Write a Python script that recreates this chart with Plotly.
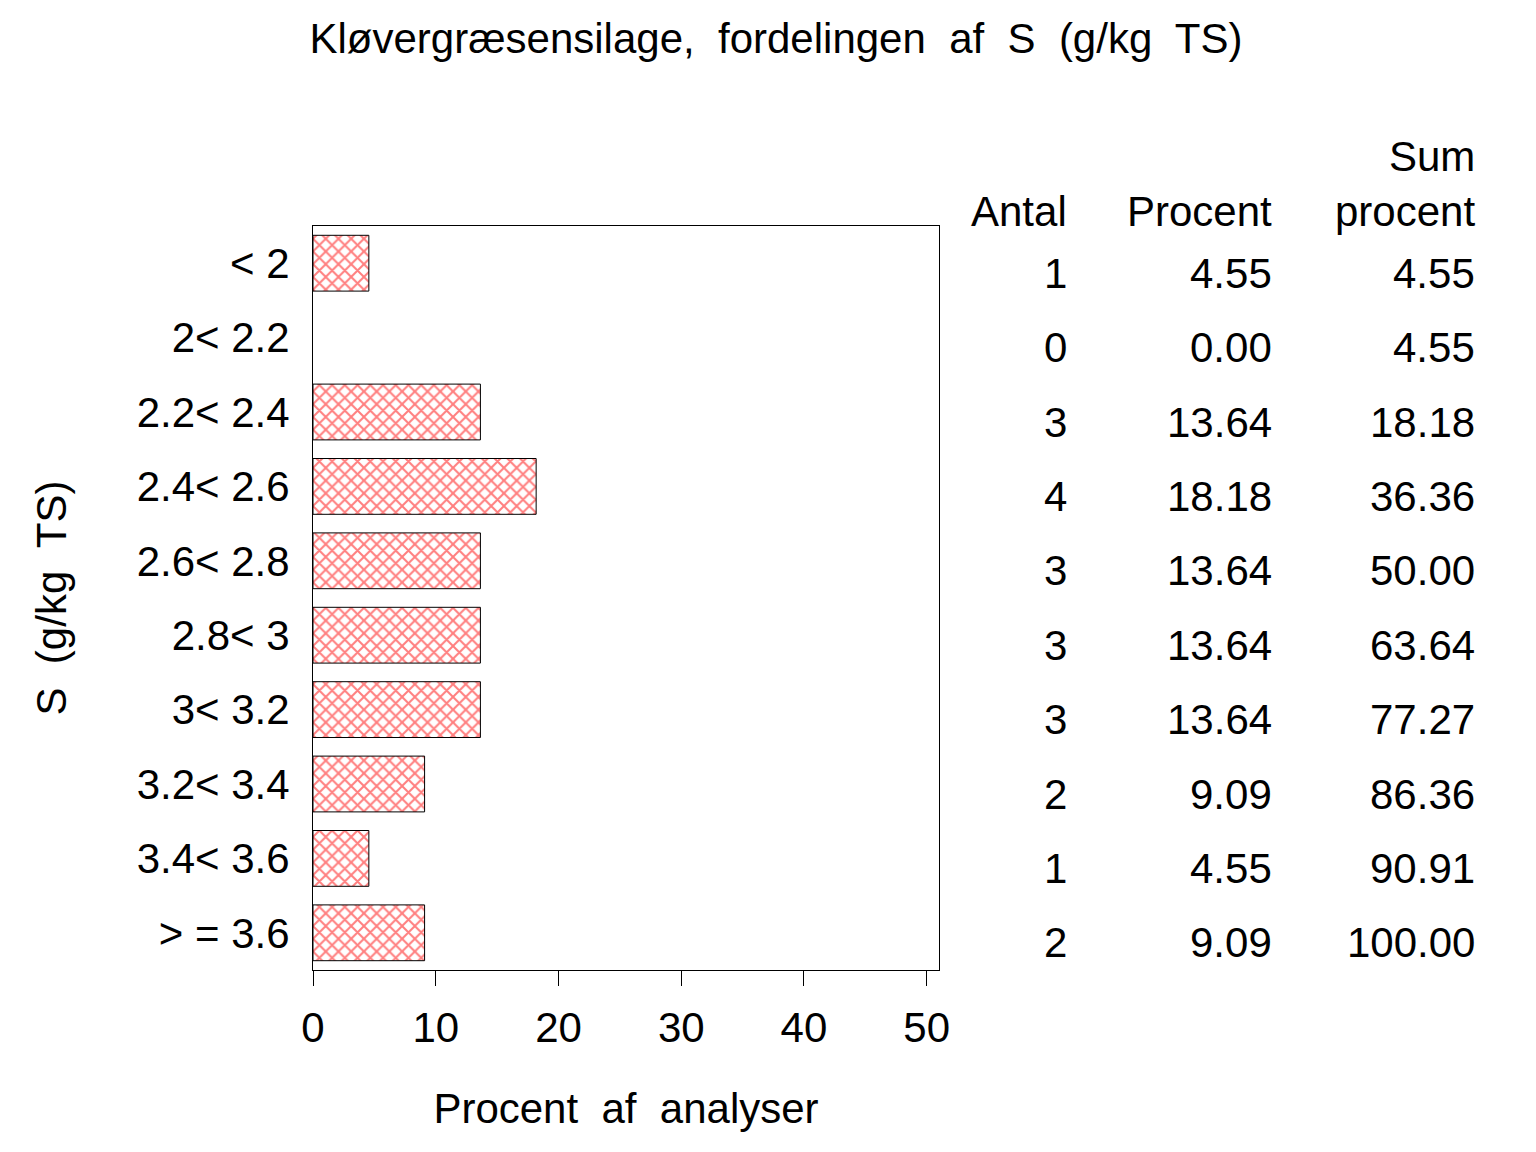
import plotly.graph_objects as go

# Data
intervals = ["< 2", "2< 2.2", "2.2< 2.4", "2.4< 2.6", "2.6< 2.8",
             "2.8< 3", "3< 3.2", "3.2< 3.4", "3.4< 3.6", "> = 3.6"]
antal = [1, 0, 3, 4, 3, 3, 3, 2, 1, 2]
procent = [4.55, 0.00, 13.64, 18.18, 13.64, 13.64, 13.64, 9.09, 4.55, 9.09]
sum_procent = [4.55, 4.55, 18.18, 36.36, 50.00, 63.64, 77.27, 86.36, 90.91, 100.00]
x_ticks = [0, 10, 20, 30, 40, 50]

FONT = "Liberation Sans, Arial, sans-serif"
FS = 42

fig = go.Figure()
fig.add_trace(
    go.Bar(
        x=procent,
        y=intervals,
        orientation="h",
        width=0.75,
        marker=dict(
            color="white",
            # no outline on empty classes
            line=dict(color="black", width=[1 if p > 0 else 0 for p in procent]),
            pattern=dict(shape="x", fgcolor="red", bgcolor="white", size=9, solidity=0.4),
        ),
        showlegend=False,
    )
)

# table to the right of the plot
col_x = {"antal": 1.207, "procent": 1.535, "sum": 1.859}
annotations = []
for lab, a, p, s in zip(intervals, antal, procent, sum_procent):
    for key, txt in (("antal", f"{a}"), ("procent", f"{p:.2f}"), ("sum", f"{s:.2f}")):
        annotations.append(dict(
            x=col_x[key], xref="paper", y=lab, yref="y", yshift=-10,
            text=txt, showarrow=False, xanchor="right", yanchor="middle",
            font=dict(size=FS, color="black", family=FONT),
        ))

headers = [("antal", 1.02, "Antal"), ("procent", 1.02, "Procent"),
           ("sum", 1.093, "Sum"), ("sum", 1.02, "procent")]
for key, yy, txt in headers:
    annotations.append(dict(
        x=col_x[key], xref="paper", y=yy, yref="paper",
        text=txt, showarrow=False, xanchor="right", yanchor="middle",
        font=dict(size=FS, color="black", family=FONT),
    ))

fig.update_layout(
    title=dict(
        text="Kløvergræsensilage,  fordelingen  af  S  (g/kg  TS)".replace("  ", "\u00a0 "),
        x=0.5, xanchor="center", y=1 - 30 / 1152, yanchor="middle",
        font=dict(size=FS, color="black", family=FONT),
    ),
    width=1536,
    height=1152,
    margin=dict(l=305, r=605, t=218, b=190),
    plot_bgcolor="white",
    paper_bgcolor="white",
    font=dict(family=FONT, size=FS, color="black"),
    bargap=0.25,
    annotations=annotations,
)
fig.update_xaxes(
    range=[0, 51],
    tickvals=x_ticks,
    ticks="outside",
    ticklen=15,
    tickcolor="black",
    tickwidth=1,
    showline=True,
    linecolor="black",
    linewidth=1,
    mirror=True,
    showgrid=False,
    zeroline=False,
    ticklabelstandoff=6,
    tickfont=dict(size=FS),
    title=dict(text="Procent\u00a0 af\u00a0 analyser", standoff=43, font=dict(size=FS)),
)
fig.update_yaxes(
    categoryorder="array",
    categoryarray=intervals,
    autorange="reversed",
    showline=True,
    linecolor="black",
    linewidth=1,
    mirror=True,
    showgrid=False,
    ticks="",
    ticklabelstandoff=14,
    tickfont=dict(size=FS),
    title=dict(text="S\u00a0 (g/kg\u00a0 TS)", standoff=56, font=dict(size=FS)),
)

fig.write_html("out.html")
